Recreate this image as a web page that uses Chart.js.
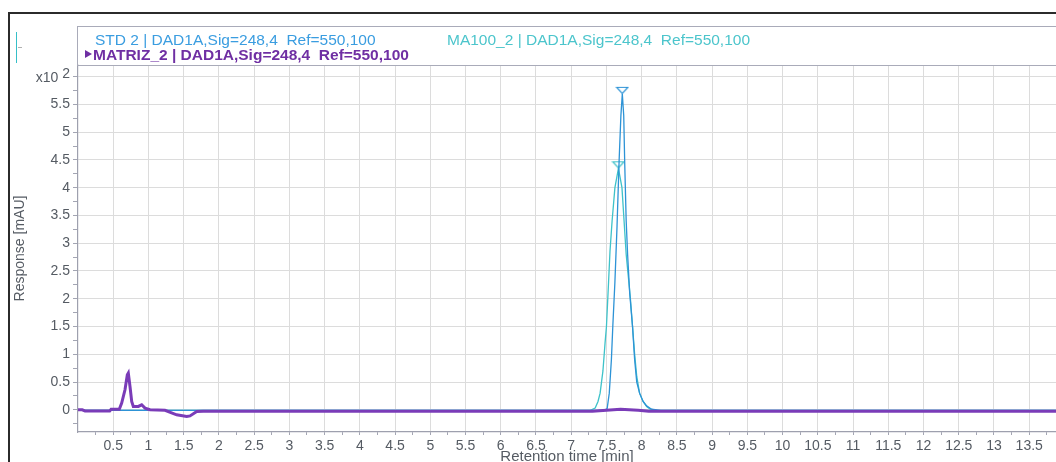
<!DOCTYPE html>
<html>
<head>
<meta charset="utf-8">
<script src="https://cdn.jsdelivr.net/npm/chart.js@4.4.1/dist/chart.umd.min.js"></script>
<style>
html,body{margin:0;padding:0;background:#fff;overflow:hidden;width:1056px;height:462px;}
#wrap{position:absolute;left:0;top:0;width:1056px;height:476px;}
.ov{position:absolute;font-family:"Liberation Sans",Arial,sans-serif;white-space:pre;line-height:1;}
#frameTop{position:absolute;left:8px;top:12px;width:1048px;height:0;border-top:2px solid #2b2b2b;}
#frameLeft{position:absolute;left:8px;top:12px;width:0;height:460px;border-left:2px solid #2b2b2b;}
#legbox{position:absolute;left:77px;top:26px;width:1000px;height:38px;border:1px solid #a9abb9;border-right:none;}
#icon{position:absolute;left:16px;top:32px;width:0;height:31px;border-left:1.5px solid #36bfc8;}
#iconTick{position:absolute;left:18px;top:47px;width:4px;height:0;border-top:1px solid #b0b0b0;}
#tri{position:absolute;left:85px;top:50px;width:0;height:0;border-left:7px solid #6f2fa3;border-top:4px solid transparent;border-bottom:4px solid transparent;}
</style>
</head>
<body>
<div id="wrap"><canvas id="c"></canvas></div>
<div id="frameTop"></div>
<div id="frameLeft"></div>
<div id="legbox"></div>
<div id="icon"></div>
<div id="iconTick"></div>
<div id="tri"></div>
<div class="ov" id="lgStd" style="left:95px;top:32px;font-size:15.5px;color:#3a9de0;"></div>
<div class="ov" id="lgMa" style="left:447px;top:32px;font-size:15.5px;color:#4cc5cc;"></div>
<div class="ov" id="lgMat" style="left:93px;top:47px;font-size:15.5px;font-weight:bold;color:#6f2fa3;"></div>
<div class="ov" id="yExp" style="right:986px;top:70px;font-size:14px;color:#555b63;">x10 <span style="position:relative;top:-4px;">2</span></div>
<script>
// ---- legend / series names ----
const seriesNames = ['STD 2', 'MA100_2', 'MATRIZ_2'];
const signalText = ' | DAD1A,Sig=248,4  Ref=550,100';

// ---- tick labels ----
const xTickLabels = ['0.5','1','1.5','2','2.5','3','3.5','4','4.5','5','5.5','6','6.5','7','7.5','8','8.5','9','9.5','10','10.5','11','11.5','12','12.5','13','13.5'];
const yTickLabels = ['0','0.5','1','1.5','2','2.5','3','3.5','4','4.5','5','5.5'];
const xTitle = 'Retention time [min]';
const yTitle = 'Response [mAU]';

// ---- STD 2 (retention time min, response x100 mAU) ----
const stdTime = [0, 0.6, 1.5, 3.0, 5.9, 6.3, 7.0, 7.47, 7.51, 7.54, 7.57, 7.59, 7.62, 7.65, 7.68, 7.705, 7.725, 7.745, 7.76, 7.78, 7.80, 7.83, 7.87, 7.90, 7.93, 7.97, 8.02, 8.07, 8.14, 8.27, 9.0, 11.0, 13.9];
const stdResp = [-0.01, -0.01, -0.01, -0.01, -0.01, -0.01, -0.01, -0.01, 0.02, 0.3, 0.9, 1.5, 2.3, 3.3, 4.5, 5.3, 5.69, 5.3, 4.4, 3.4, 2.8, 2.1, 1.5, 0.9, 0.5, 0.3, 0.15, 0.07, 0.01, -0.01, -0.01, -0.01, -0.01];

// ---- MA100_2 ----
const maTime = [0, 7.27, 7.34, 7.38, 7.41, 7.45, 7.48, 7.50, 7.53, 7.55, 7.58, 7.62, 7.67, 7.72, 7.75, 7.78, 7.81, 7.84, 7.87, 7.90, 7.93, 7.97, 8.02, 8.07, 8.12, 8.22, 13.9];
const maResp = [-0.01, -0.01, 0.03, 0.15, 0.3, 0.7, 1.2, 1.5, 2.3, 2.85, 3.4, 4.0, 4.35, 4.0, 3.4, 2.8, 2.4, 2.0, 1.5, 1.0, 0.6, 0.3, 0.15, 0.06, 0.01, -0.01, -0.01];

// ---- MATRIZ_2 ----
const matTime = [0, 0.06, 0.1, 0.45, 0.47, 0.586, 0.62, 0.667, 0.70, 0.714, 0.738, 0.762, 0.785, 0.856, 0.904, 0.951, 1.022, 1.235, 1.40, 1.543, 1.59, 1.685, 1.778, 3.0, 5.0, 7.3, 7.5, 7.7, 7.95, 8.1, 10.0, 13.9];
const matResp = [0.0, 0.0, -0.02, -0.02, 0.01, 0.01, 0.12, 0.36, 0.63, 0.66, 0.42, 0.15, 0.06, 0.06, 0.09, 0.03, 0.0, -0.01, -0.09, -0.12, -0.11, -0.03, -0.025, -0.025, -0.025, -0.025, -0.01, 0.01, -0.01, -0.025, -0.025, -0.025];

// ---- dark trace segment under the main peak ----
const darkTime = [7.25, 7.5, 7.7, 7.95, 8.45];
const darkResp = [-0.02, -0.01, 0.0, -0.01, -0.02];

// ---------------------------------------------------------------
document.getElementById('lgStd').textContent = seriesNames[0] + signalText;
document.getElementById('lgMa').textContent = seriesNames[1] + signalText;
document.getElementById('lgMat').textContent = seriesNames[2] + signalText;

const pts = (t, r) => t.map((x, i) => ({x: x, y: r[i]}));
const apexIdx = r => r.indexOf(Math.max.apply(null, r));

function triMarker(color) {
  const c = document.createElement('canvas');
  c.width = 14; c.height = 16;
  const g = c.getContext('2d');
  g.strokeStyle = color; g.lineWidth = 1.2;
  g.beginPath(); g.moveTo(1.5, 1.5); g.lineTo(12.5, 1.5); g.lineTo(7, 7.6); g.closePath(); g.stroke();
  return c;
}

const isMajor = v => Math.abs(v * 2 - Math.round(v * 2)) < 1e-6;
const findLabel = (arr, v) => { const l = arr.find(s => Math.abs(parseFloat(s) - v) < 1e-6); return l === undefined ? '' : l; };

const STD_C = '#2d93d6', MA_C = '#3ec2c9', MAT_C = '#7a3cb8';
const stdA = apexIdx(stdResp), maA = apexIdx(maResp);
const FONT = '"Liberation Sans", Arial, sans-serif';

new Chart(document.getElementById('c'), {
  type: 'line',
  data: {
    datasets: [
      {label: seriesNames[2], data: pts(matTime, matResp), borderColor: MAT_C, borderWidth: 3, pointRadius: 0, tension: 0, order: 0},
      {label: 'trace', data: pts(darkTime, darkResp), borderColor: '#3a3d5c', borderWidth: 1.4, pointRadius: 0, tension: 0, order: 1},
      {label: seriesNames[0], data: pts(stdTime, stdResp), borderColor: STD_C, borderWidth: 1.3, tension: 0, order: 2,
        pointStyle: triMarker(STD_C), pointRadius: ctx => ctx.dataIndex === stdA ? 5 : 0},
      {label: seriesNames[1], data: pts(maTime, maResp), borderColor: MA_C, borderWidth: 1.3, tension: 0, order: 3,
        pointStyle: triMarker(MA_C), pointRadius: ctx => ctx.dataIndex === maA ? 5 : 0}
    ]
  },
  options: {
    responsive: true,
    maintainAspectRatio: false,
    animation: false,
    devicePixelRatio: 1,
    layout: {padding: {top: 65, left: 0, right: 0, bottom: 0}},
    plugins: {legend: {display: false}, tooltip: {enabled: false}},
    scales: {
      x: {
        type: 'linear', min: 0, max: 13.88,
        afterBuildTicks: s => { const t = []; for (let k = 1; k <= 55; k++) t.push({value: k * 0.25}); s.ticks = t; },
        afterFit: s => { s.height = 44; },
        ticks: {autoSkip: false, maxRotation: 0, padding: 3, color: '#555b63', font: {family: FONT, size: 14},
          callback: v => findLabel(xTickLabels, v)},
        grid: {color: c => (c.tick && isMajor(c.tick.value)) ? '#dcdcdc' : 'rgba(0,0,0,0)', tickColor: '#a3a5b3', tickLength: 3, lineWidth: 1},
        border: {display: true, color: '#9ea0ae', width: 1.2},
        title: {display: true, text: xTitle, color: '#555b63', font: {family: FONT, size: 15}, padding: {top: 0, bottom: 10}}
      },
      y: {
        type: 'linear', min: -0.4, max: 6.21,
        afterBuildTicks: s => { const t = []; for (let k = -1; k <= 24; k++) t.push({value: k * 0.25}); s.ticks = t; },
        afterFit: s => { s.width = 78; },
        ticks: {autoSkip: false, padding: 3, color: '#555b63', font: {family: FONT, size: 14},
          callback: v => findLabel(yTickLabels, v)},
        grid: {color: c => (c.tick && isMajor(c.tick.value)) ? '#dcdcdc' : 'rgba(0,0,0,0)', tickColor: '#a3a5b3', tickLength: 5, lineWidth: 1},
        border: {display: true, color: '#9ea0ae', width: 1.2},
        title: {display: true, text: yTitle, color: '#555b63', font: {family: FONT, size: 14}, padding: {top: 12, bottom: 0}}
      }
    }
  }
});
</script>
</body>
</html>
